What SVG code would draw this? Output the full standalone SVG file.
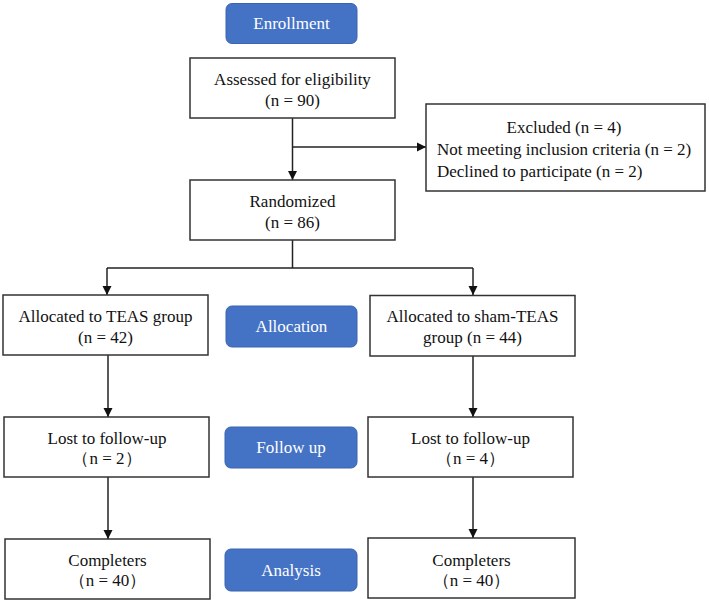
<svg xmlns="http://www.w3.org/2000/svg" width="709" height="604" viewBox="0 0 709 604">
<style>
.box{fill:#fff;stroke:#333;stroke-width:1.5}
.btn{fill:#4472C4;stroke:#3A64B0;stroke-width:1}
.t{font-family:"Liberation Serif","Times New Roman",serif;font-size:17px;fill:#111;text-anchor:middle}
.l{text-anchor:start}
.w{fill:#fff}
.c{stroke:#222;stroke-width:1.5;fill:none}
</style>
<defs>
<marker id="ah" viewBox="0 0 10 10" refX="10" refY="5" markerWidth="9" markerHeight="10" markerUnits="userSpaceOnUse" orient="auto">
<path d="M0,0 L10,5 L0,10 Z" fill="#111"/>
</marker>
</defs>
<g id="connectors">
<path class="c" d="M292.5,118 V180" marker-end="url(#ah)"/>
<path class="c" d="M292.5,147 H426" marker-end="url(#ah)"/>
<path class="c" d="M292.5,240 V268"/>
<path class="c" d="M107,268 H473"/>
<path class="c" d="M107,268 V295" marker-end="url(#ah)"/>
<path class="c" d="M473,268 V295" marker-end="url(#ah)"/>
<path class="c" d="M108,355 V417" marker-end="url(#ah)"/>
<path class="c" d="M473,356 V417" marker-end="url(#ah)"/>
<path class="c" d="M108,477 V539" marker-end="url(#ah)"/>
<path class="c" d="M473,477 V538" marker-end="url(#ah)"/>
</g>
<g id="enrollment">
<rect class="btn" x="226" y="3.5" width="131" height="40" rx="6"/>
<text class="t w" x="291.5" y="29">Enrollment</text>
</g>
<g id="assessed">
<rect class="box" x="190" y="58" width="205" height="60"/>
<text class="t" x="292.5" y="85">Assessed for eligibility</text>
<text class="t" x="292.5" y="106">(n = 90)</text>
</g>
<g id="excluded">
<rect class="box" x="426" y="104" width="279" height="87"/>
<text class="t" x="564" y="133">Excluded (n = 4)</text>
<text class="t l" x="437" y="155">Not meeting inclusion criteria (n = 2)</text>
<text class="t l" x="437" y="177">Declined to participate (n = 2)</text>
</g>
<g id="randomized">
<rect class="box" x="190" y="180" width="205" height="60"/>
<text class="t" x="292.5" y="207">Randomized</text>
<text class="t" x="292.5" y="228">(n = 86)</text>
</g>
<g id="alloc-teas">
<rect class="box" x="3" y="295" width="205" height="60"/>
<text class="t" x="105.5" y="322">Allocated to TEAS group</text>
<text class="t" x="105.5" y="343">(n = 42)</text>
</g>
<g id="allocation">
<rect class="btn" x="226" y="306" width="131" height="41" rx="6"/>
<text class="t w" x="291.5" y="332">Allocation</text>
</g>
<g id="alloc-sham">
<rect class="box" x="370" y="295.5" width="205" height="60.5"/>
<text class="t" x="472.5" y="322">Allocated to sham-TEAS</text>
<text class="t" x="472.5" y="343">group (n = 44)</text>
</g>
<g id="lost-teas">
<rect class="box" x="4" y="417" width="205" height="60"/>
<text class="t" x="107" y="444">Lost to follow-up</text>
<text class="t" x="107" y="464">（n = 2）</text>
</g>
<g id="followup">
<rect class="btn" x="225" y="427" width="132" height="41" rx="6"/>
<text class="t w" x="291" y="453">Follow up</text>
</g>
<g id="lost-sham">
<rect class="box" x="368" y="417" width="205" height="60"/>
<text class="t" x="470.5" y="444">Lost to follow-up</text>
<text class="t" x="470.5" y="464">（n = 4）</text>
</g>
<g id="comp-teas">
<rect class="box" x="5" y="539" width="205" height="60"/>
<text class="t" x="107.5" y="566">Completers</text>
<text class="t" x="107.5" y="586">（n = 40）</text>
</g>
<g id="analysis">
<rect class="btn" x="225" y="549" width="132" height="42" rx="6"/>
<text class="t w" x="291" y="576">Analysis</text>
</g>
<g id="comp-sham">
<rect class="box" x="368" y="538" width="207" height="60"/>
<text class="t" x="471.5" y="566">Completers</text>
<text class="t" x="471.5" y="586">（n = 40）</text>
</g>
</svg>
